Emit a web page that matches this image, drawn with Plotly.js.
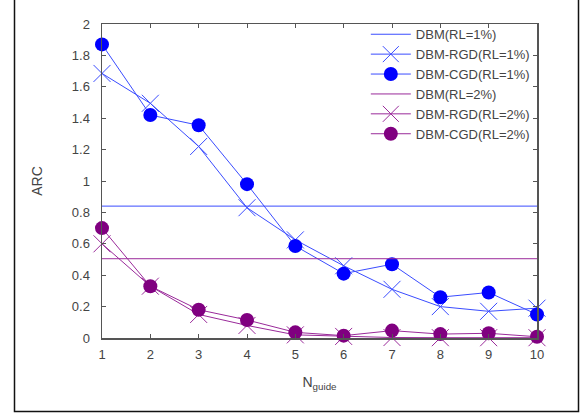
<!DOCTYPE html>
<html>
<head>
<meta charset="utf-8">
<script src="https://cdn.plot.ly/plotly-3.0.1.min.js"></script>
<style>html,body{margin:0;padding:0;background:#fff;}#chart{width:584px;height:414px;}</style>
</head>
<body>
<div id="chart"></div>
<script>
const nGuide = [1, 2, 3, 4, 5, 6, 7, 8, 9, 10];
const xTickLabels = ["1","2","3","4","5","6","7","8","9","10"];
const yTickVals = [0, 0.2, 0.4, 0.6, 0.8, 1, 1.2, 1.4, 1.6, 1.8, 2];
const yTickLabels = ["0","0.2","0.4","0.6","0.8","1","1.2","1.4","1.6","1.8","2"];

const dbm1 = 0.84;
const rgd1 = [1.685, 1.495, 1.22, 0.83, 0.625, 0.46, 0.31, 0.20, 0.17, 0.19];
const cgd1 = [1.87, 1.42, 1.355, 0.98, 0.586, 0.41, 0.47, 0.26, 0.29, 0.15];
const dbm2 = 0.505;
const rgd2 = [0.60, 0.33, 0.15, 0.08, 0.02, 0.01, 0.003, 0.002, 0.002, 0.002];
const cgd2 = [0.70, 0.33, 0.18, 0.115, 0.036, 0.015, 0.047, 0.025, 0.03, 0.008];

const names = ["DBM(RL=1%)", "DBM-RGD(RL=1%)", "DBM-CGD(RL=1%)", "DBM(RL=2%)", "DBM-RGD(RL=2%)", "DBM-CGD(RL=2%)"];

const blue = "#0000ff", blueLine = "#3a4cff";
const purple = "#800080", purpleLine = "#9a2a9a";

const traces = [
  {x: [nGuide[0], nGuide[nGuide.length-1]], y: [dbm1, dbm1], name: names[0], mode: "lines",
   line: {color: blueLine, width: 1}},
  {x: nGuide, y: rgd1, name: names[1], mode: "lines+markers",
   line: {color: blueLine, width: 1},
   marker: {symbol: "x-thin-open", size: 17, color: blueLine, line: {color: blueLine, width: 1}}},
  {x: nGuide, y: cgd1, name: names[2], mode: "lines+markers",
   line: {color: blueLine, width: 1},
   marker: {symbol: "circle", size: 14, color: blue}},
  {x: [nGuide[0], nGuide[nGuide.length-1]], y: [dbm2, dbm2], name: names[3], mode: "lines",
   line: {color: purpleLine, width: 1}},
  {x: nGuide, y: rgd2, name: names[4], mode: "lines+markers",
   line: {color: purpleLine, width: 1},
   marker: {symbol: "x-thin-open", size: 17, color: purpleLine, line: {color: purpleLine, width: 1}}},
  {x: nGuide, y: cgd2, name: names[5], mode: "lines+markers",
   line: {color: purpleLine, width: 1},
   marker: {symbol: "circle", size: 14, color: purple}}
];
traces.forEach(t => { t.cliponaxis = false; });

const fam = "Liberation Sans, Arial, sans-serif";
const axisCommon = {
  showgrid: false, zeroline: false, showline: true, linecolor: "#555", linewidth: 1.5,
  mirror: "ticks", ticks: "inside", ticklen: 4, tickcolor: "#555", tickwidth: 1,
  tickfont: {family: fam, size: 13, color: "#444"}
};

const layout = {
  width: 584, height: 414,
  margin: {l: 102, r: 47, t: 24, b: 76},
  paper_bgcolor: "#fff", plot_bgcolor: "#fff",
  font: {family: fam, size: 13, color: "#444"},
  xaxis: Object.assign({}, axisCommon, {
    range: [1, 10], tickvals: nGuide, ticktext: xTickLabels, ticklabelstandoff: 4,
    title: {text: "N<sub>guide</sub>", font: {family: fam, size: 14, color: "#444"}, standoff: 16}
  }),
  yaxis: Object.assign({}, axisCommon, {
    range: [0, 2], tickvals: yTickVals, ticktext: yTickLabels, ticklabelstandoff: 8,
    title: {text: "ARC", font: {family: fam, size: 14, color: "#444"}, standoff: 26}
  }),
  showlegend: true,
  legend: {
    x: 0.995, xanchor: "right", y: 1.015, yanchor: "top",
    bgcolor: "rgba(255,255,255,0)", borderwidth: 0,
    font: {family: fam, size: 13, color: "#444"},
    tracegroupgap: 0, itemwidth: 40
  },
  shapes: [{
    type: "rect", xref: "paper", yref: "paper",
    x0: (14.5 - 102) / 435, x1: (578.5 - 102) / 435,
    y0: (338 - 411.5) / 314, y1: (338 + 2) / 314,
    line: {color: "#111", width: 1.5}, fillcolor: "rgba(0,0,0,0)", layer: "below"
  }]
};

Plotly.newPlot("chart", traces, layout, {displayModeBar: false, staticPlot: true});
</script>
</body>
</html>
